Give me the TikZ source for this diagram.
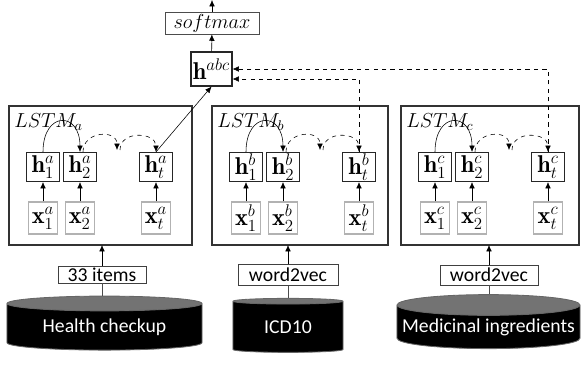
\documentclass[tikz,border=0pt]{standalone}
\usepackage{fontspec}
\newfontfamily\calibri{Carlito}
\usetikzlibrary{arrows.meta,shapes.geometric}

\begin{document}
\begin{tikzpicture}[x=0.025cm, y=-0.025cm,
        >={Latex[length=4.5pt,width=4pt]},
        frame/.style={draw=black!80, line width=0.8pt},
        hbox/.style={draw=black!85, line width=0.8pt, inner sep=0pt, minimum width=0.825cm, minimum height=0.725cm, font=\LARGE},
        xbox/.style={draw=black!30, line width=0.8pt, inner sep=0pt, minimum width=0.725cm, minimum height=0.8cm, font=\LARGE},
        tagbox/.style={draw=black!75, line width=0.6pt, inner sep=0pt, font=\calibri\fontsize{14}{16}\selectfont},
        db/.style={cylinder, shape border rotate=90, aspect=0.12, draw=black!60, line width=0.6pt,
            cylinder uses custom fill, cylinder body fill=black, cylinder end fill=black!55,
            inner sep=0pt, text=white, font=\calibri\fontsize{14}{16}\selectfont}]
    \useasboundingbox (0,0) rectangle (581,364);

    % Three LSTM blocks
    \foreach \s/\l/\r in {a/9/192, b/212/388, c/401/579} {
        \draw[frame] (\l,106) rectangle (\r,245);
        \coordinate (bot\s) at (\l,245);
        \node[anchor=base west, inner sep=0pt, font=\Large] (name\s) at (\l+5,127) {$LSTM_\s$};
        % hidden states
        \node[hbox] (h1\s) at (\l+34,167) {$\mathbf{h}_1^\s$};
        \node[hbox] (h2\s) at (\l+71,167) {$\mathbf{h}_2^\s$};
        \node[hbox] (ht\s) at (\l+147,167) {$\mathbf{h}_t^\s$};
        % inputs
        \node[xbox] (x1\s) at (\l+34,218) {$\mathbf{x}_1^\s$};
        \node[xbox] (x2\s) at (\l+71,218) {$\mathbf{x}_2^\s$};
        \node[xbox] (xt\s) at (\l+147,218) {$\mathbf{x}_t^\s$};
        \draw[->] (x1\s) -- (h1\s);
        \draw[->] (x2\s) -- (h2\s);
        \draw[->] (xt\s) -- (ht\s);
        % recurrence
        \coordinate (m1\s) at (\l+108,150);
        \coordinate (m2\s) at (\l+111,150);
        \draw[->] (h1\s.north) .. controls +(0,-41) and +(0,-41) .. (h2\s.north);
        \draw[->, dashed] ([xshift=0.075cm]h2\s.north) .. controls +(0,-21) and +(0,-21) .. (m1\s);
        \draw[->, dashed] (m2\s) .. controls +(0,-20) and +(0,-20) .. (ht\s.north);
    }

    % joint state and output
    \node[hbox, minimum width=1.025cm, minimum height=0.85cm] (habc) at (211.5,69) {$\mathbf{h}^{abc}$};
    \node[hbox, draw=black!70, line width=0.6pt, minimum width=2.35cm, minimum height=0.55cm, font=\Large] (softmax) at (212,23) {$softmax$};
    \coordinate (out) at (212,0);
    \draw[->] (habc) -- (softmax);
    \draw[->] (softmax) -- (out);
    \draw[->] (hta.north) -- (habc.south);
    \draw[->, dashed] (htb.north) |- ([yshift=-0.25cm]habc.east);
    \draw[->, dashed] (htc.north) |- (habc.east);

    % data sources
    \node[db, minimum width=4.875cm, minimum height=1.35cm] (health) at (104.5,327) {Health checkup};
    \node[db, minimum width=2.75cm, minimum height=1.35cm] (icd) at (288,327) {ICD10};
    \node[db, minimum width=4.575cm, minimum height=1.35cm] (medi) at (488.5,327) {Medicinal ingredients};
    \node[tagbox, minimum width=2.2cm, minimum height=0.425cm] (taga) at (102,274.5) {33 items};
    \node[tagbox, minimum width=2.5cm, minimum height=0.525cm] (tagb) at (288,275) {word2vec};
    \node[tagbox, minimum width=2.45cm, minimum height=0.5cm] (tagc) at (489,275) {word2vec};
    \draw[black!70] (taga.south) -- (taga.south |- health.north);
    \draw[black!70] (tagb.south) -- (tagb.south |- icd.north);
    \draw[black!70] (tagc.south) -- (tagc.south |- medi.north);
    \draw[->] (taga.north) -- (taga.north |- bota);
    \draw[->] (tagb.north) -- (tagb.north |- botb);
    \draw[->] (tagc.north) -- (tagc.north |- botc);
\end{tikzpicture}
\end{document}
